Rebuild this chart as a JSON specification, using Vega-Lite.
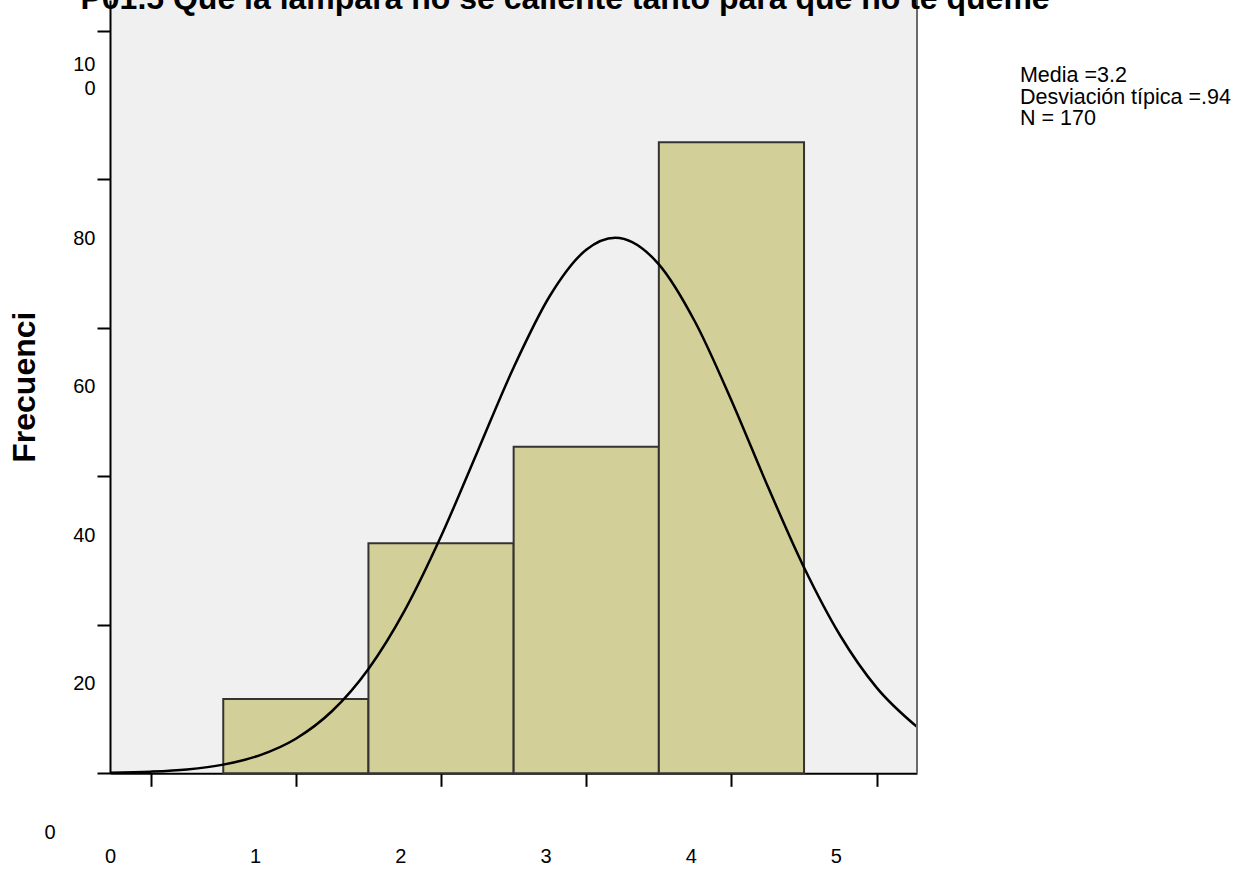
{
  "$schema": "https://vega.github.io/schema/vega-lite/v6.json",
  "width": 807,
  "height": 773.3,
  "autosize": {"type": "none"},
  "padding": {"left": 110, "top": 0, "right": 332, "bottom": 97.7},
  "background": "white",
  "config": {
    "view": {"stroke": null, "fill": "#f0f0f0"},
    "font": "Liberation Sans"
  },
  "datasets": {
    "barras": [
      {"valor": 1, "desde": 0.5, "hasta": 1.5, "frecuencia": 10},
      {"valor": 2, "desde": 1.5, "hasta": 2.5, "frecuencia": 31},
      {"valor": 3, "desde": 2.5, "hasta": 3.5, "frecuencia": 44},
      {"valor": 4, "desde": 3.5, "hasta": 4.5, "frecuencia": 85}
    ],
    "curva": [
      {"x": -0.28, "densidad": 0.08},
      {"x": 0.0, "densidad": 0.22},
      {"x": 0.25, "densidad": 0.52},
      {"x": 0.5, "densidad": 1.17},
      {"x": 0.75, "densidad": 2.42},
      {"x": 1.0, "densidad": 4.66},
      {"x": 1.25, "densidad": 8.39},
      {"x": 1.5, "densidad": 14.06},
      {"x": 1.75, "densidad": 21.95},
      {"x": 2.0, "densidad": 31.93},
      {"x": 2.25, "densidad": 43.3},
      {"x": 2.5, "densidad": 54.68},
      {"x": 2.75, "densidad": 64.34},
      {"x": 3.0, "densidad": 70.53},
      {"x": 3.2, "densidad": 72.15},
      {"x": 3.5, "densidad": 68.57},
      {"x": 3.75, "densidad": 60.8},
      {"x": 4.0, "densidad": 50.23},
      {"x": 4.25, "densidad": 38.67},
      {"x": 4.5, "densidad": 27.73},
      {"x": 4.75, "densidad": 18.53},
      {"x": 5.0, "densidad": 11.54},
      {"x": 5.278, "densidad": 6.25}
    ]
  },
  "layer": [
    {
      "data": {"name": "barras"},
      "mark": {"type": "rect", "fill": "#d3cf99", "stroke": "#333333", "strokeWidth": 2},
      "encoding": {
        "x": {
          "field": "desde",
          "type": "quantitative",
          "scale": {"domain": [-0.28, 5.278], "nice": false, "zero": false},
          "axis": {
            "values": [0, 1, 2, 3, 4, 5],
            "format": "d",
            "title": null,
            "grid": false,
            "domainColor": "black",
            "domainWidth": 2,
            "tickColor": "black",
            "tickWidth": 2,
            "tickSize": 13,
            "labelOffset": -40.7,
            "labelPadding": 70,
            "labelBaseline": "middle",
            "labelAlign": "center",
            "labelFontSize": 20,
            "labelColor": "black",
            "labelFont": "Liberation Sans",
            "labelFlush": false,
            "labelOverlap": false
          }
        },
        "x2": {"field": "hasta"},
        "y": {
          "field": "frecuencia",
          "type": "quantitative",
          "scale": {"domain": [0, 104.18], "nice": false, "zero": true},
          "axis": {
            "values": [0, 20, 40, 60, 80, 100],
            "format": "d",
            "title": "Frecuenci",
            "titleFontSize": 32,
            "titleFontWeight": "bold",
            "titleColor": "black",
            "titleFont": "Liberation Sans",
            "titlePadding": 2,
            "grid": false,
            "domainColor": "black",
            "domainWidth": 2,
            "tickColor": "black",
            "tickWidth": 2,
            "tickSize": 13,
            "labelAlign": "right",
            "labelBaseline": "middle",
            "labelPadding": {"condition": {"test": "datum.value === 0", "value": 42}, "value": 2},
            "labelOffset": {"condition": {"test": "datum.value === 100", "value": 33}, "value": 59},
            "labelExpr": "datum.value === 100 ? ['10', '0'] : datum.label",
            "labelLineHeight": 24,
            "labelFontSize": 20,
            "labelColor": "black",
            "labelFont": "Liberation Sans",
            "labelFlush": false,
            "labelOverlap": false
          }
        },
        "y2": {"datum": 0}
      }
    },
    {
      "data": {"name": "curva"},
      "mark": {"type": "line", "color": "black", "strokeWidth": 2.5, "interpolate": "monotone"},
      "encoding": {
        "x": {"field": "x", "type": "quantitative"},
        "y": {"field": "densidad", "type": "quantitative"}
      }
    },
    {
      "data": {"values": [{}]},
      "mark": {"type": "rule", "color": "#6a6a6a", "strokeWidth": 2},
      "encoding": {"x": {"datum": 5.278}}
    },
    {
      "data": {"values": [{}]},
      "mark": {
        "type": "text",
        "text": "P01.5 Que la lámpara no se caliente tanto para que no te queme",
        "align": "center",
        "baseline": "alphabetic",
        "fontSize": 32,
        "fontWeight": "bold",
        "font": "Liberation Sans",
        "color": "black"
      },
      "encoding": {
        "x": {"datum": 2.854},
        "y": {"datum": 102.96}
      }
    },
    {
      "data": {"values": [{}]},
      "mark": {
        "type": "text",
        "text": ["Media =3.2", "Desviación típica =.94", "N = 170"],
        "align": "left",
        "baseline": "middle",
        "fontSize": 21.5,
        "lineHeight": 21.5,
        "font": "Liberation Sans",
        "color": "black"
      },
      "encoding": {
        "x": {"datum": 5.987},
        "y": {"datum": 93.94}
      }
    }
  ]
}
